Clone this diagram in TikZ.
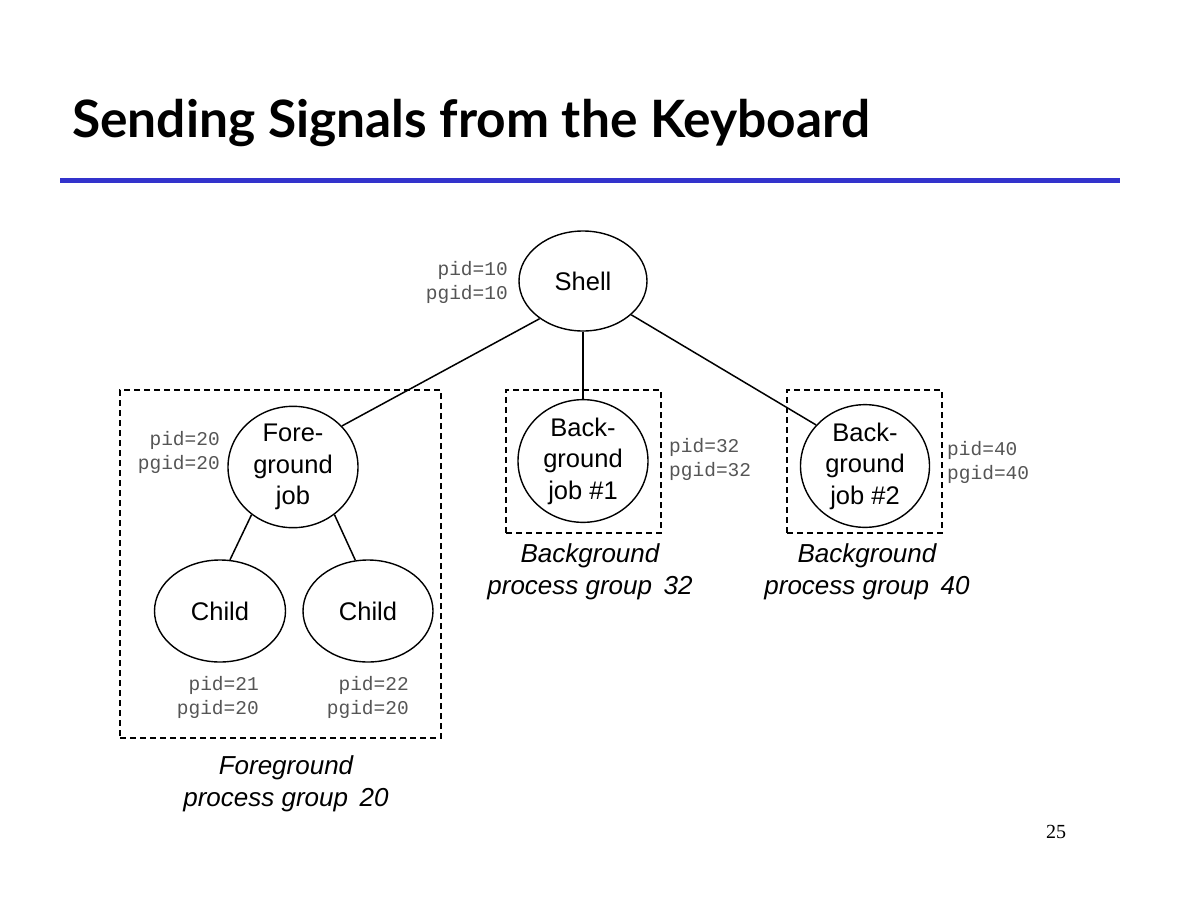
\documentclass[tikz,border=0pt]{standalone}
\usepackage{fontspec}
\usepackage{xcolor}
\setmainfont{Liberation Sans}
\newfontfamily\titlefont{Lato}
\newfontfamily\idfont{Liberation Mono}
\newfontfamily\numfont{Liberation Serif}
\usetikzlibrary{shapes.geometric}
\usetikzlibrary{positioning}
\definecolor{rulecolor}{RGB}{51,51,204}
\definecolor{idgray}{RGB}{85,85,85}

\begin{document}
\begin{tikzpicture}[x=1pt,y=-1pt,
  proc/.style={draw,ellipse,line width=1.4pt,inner sep=0pt,align=center,
    font=\fontsize{25.5}{31.5}\selectfont},
  groupbox/.style={draw,line width=1.4pt,dash pattern=on 6pt off 4pt,inner sep=0pt},
  ids/.style={inner sep=0pt,align=right,text=idgray,font=\idfont\fontsize{19.5}{24}\selectfont},
  idsl/.style={ids,align=left},
  caption/.style={inner sep=0pt,align=center,font=\itshape\fontsize{26}{32}\selectfont},
  edge/.style={line width=1.5pt}]
\useasboundingbox[fill=white] (0,0) rectangle (1200,900);
% title and rule
\node[anchor=base west,inner sep=0pt,font=\titlefont\bfseries\fontsize{51.5}{54}\selectfont] (title) at (72,137) {Sending Signals from the Keyboard};
\draw[rulecolor,line width=5pt] (60,180) -- (1120,180);
% process groups
\node[groupbox,minimum width=321pt,minimum height=348pt] (fgbox) at (280.5,564) {};
\node[groupbox,minimum width=155pt,minimum height=143pt] (bgboxa) at (583.5,461.5) {};
\node[groupbox,minimum width=155pt,minimum height=143pt] (bgboxb) at (864.5,461.5) {};
\node[caption] (fgcap) at (286,784) {Foreground\\process group \,20};
\node[caption] (bgcapa) at (590,572) {Background\\process group \,32};
\node[caption] (bgcapb) at (867,572) {Background\\process group \,40};
% processes
\node[proc,minimum width=128pt,minimum height=100pt] (shell) at (583,281) {Shell};
\node[proc,minimum width=130pt,minimum height=110pt] (fg) at (293,467) {Fore-\\ground\\job};
\node[proc,minimum width=130pt,minimum height=114pt] (bga) at (583,461) {Back-\\ground\\job \#1};
\node[proc,minimum width=129pt,minimum height=112pt] (bgb) at (865,466) {Back-\\ground\\job \#2};
\node[proc,minimum width=131pt,minimum height=102pt] (childa) at (220,611) {Child};
\node[proc,minimum width=130pt,minimum height=102pt] (childb) at (368,611) {Child};
% ids
\node[ids,anchor=east] (shellid) at (508,282) {pid=10\\pgid=10};
\node[ids,anchor=east] (fgid) at (220,452) {pid=20\\pgid=20};
\node[idsl,anchor=west] (bgaid) at (669,459) {pid=32\\pgid=32};
\node[idsl,anchor=west] (bgbid) at (947,462) {pid=40\\pgid=40};
\node[ids,anchor=east] (childaid) at (259,697) {pid=21\\pgid=20};
\node[ids,anchor=east] (childbid) at (409,697) {pid=22\\pgid=20};
% edges
\draw[edge] (shell.221) -- (fg.40);
\draw[edge] (shell.south) -- (bga.north);
\draw[edge] (shell.325) -- (bgb.140);
\draw[edge] (fg.229) -- (childa.79);
\draw[edge] (fg.311) -- (childb.104);
% page number
\node[inner sep=0pt,font=\numfont\fontsize{20}{24}\selectfont] (pageno) at (1056,832) {25};
\end{tikzpicture}
\end{document}
